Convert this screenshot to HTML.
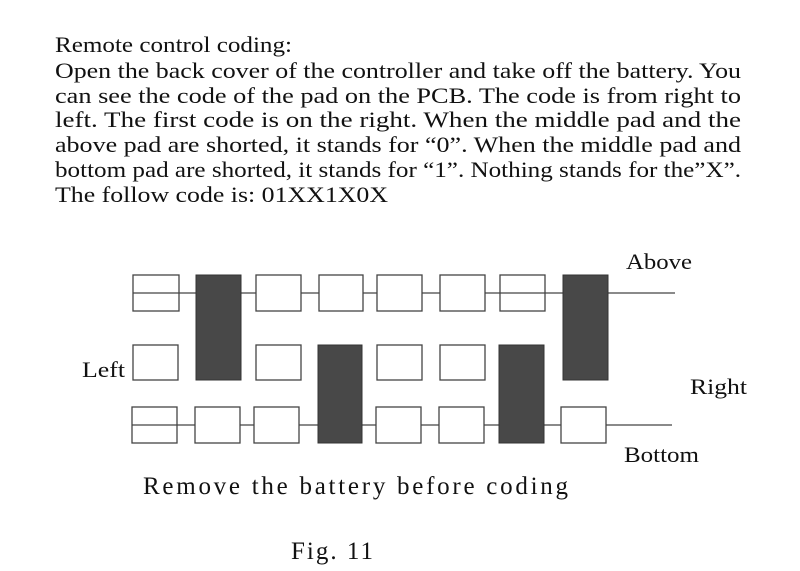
<!DOCTYPE html>
<html><head><meta charset="utf-8"><style>
html,body{margin:0;padding:0;background:#fff;}
svg{display:block;}
text{font-family:"Liberation Serif",serif;fill:#111;}
</style></head><body>
<svg width="800" height="571" viewBox="0 0 800 571" xmlns="http://www.w3.org/2000/svg">
<g font-size="22.5">
<text x="55" y="52" textLength="237" lengthAdjust="spacingAndGlyphs">Remote control coding:</text>
<text x="55" y="78" textLength="686" lengthAdjust="spacingAndGlyphs">Open the back cover of the controller and take off the battery. You</text>
<text x="55" y="103" textLength="686" lengthAdjust="spacingAndGlyphs">can see the code of the pad on the PCB. The code is  from right to</text>
<text x="55" y="127" textLength="686" lengthAdjust="spacingAndGlyphs">left. The first code is on the right. When the middle pad and the</text>
<text x="55" y="152" textLength="686" lengthAdjust="spacingAndGlyphs">above pad are shorted, it stands for “0”. When the middle pad and</text>
<text x="55" y="177" textLength="686" lengthAdjust="spacingAndGlyphs">bottom pad are shorted, it stands for “1”. Nothing stands for the”X”.</text>
<text x="55" y="202" textLength="333" lengthAdjust="spacingAndGlyphs">The follow code  is: 01XX1X0X</text>
</g>
<g stroke="#444" stroke-width="1.3" fill="#fff">
<line x1="133" y1="293" x2="675" y2="293"/>
<line x1="132" y1="425" x2="672" y2="425"/>
<rect x="133" y="275" width="46" height="36" fill="none"/>
<rect x="256" y="275" width="45" height="36"/>
<rect x="319" y="275" width="44" height="36"/>
<rect x="377" y="275" width="45" height="36"/>
<rect x="440" y="275" width="45" height="36"/>
<rect x="500" y="275" width="45" height="36" fill="none"/>
<rect x="133" y="345" width="45" height="35"/>
<rect x="256" y="345" width="45" height="35"/>
<rect x="377" y="345" width="45" height="35"/>
<rect x="440" y="345" width="45" height="35"/>
<rect x="132" y="407" width="45" height="36" fill="none"/>
<rect x="195" y="407" width="45" height="36"/>
<rect x="254" y="407" width="45" height="36"/>
<rect x="376" y="407" width="45" height="36"/>
<rect x="439" y="407" width="45" height="36"/>
<rect x="561" y="407" width="45" height="36"/>
</g>
<g fill="#484848" stroke="#333" stroke-width="1">
<rect x="196" y="275" width="45" height="105"/>
<rect x="563" y="275" width="45" height="105"/>
<rect x="318" y="345" width="44" height="98"/>
<rect x="499" y="345" width="45" height="98"/>
</g>
<g font-size="22">
<text x="626" y="269" textLength="66" lengthAdjust="spacingAndGlyphs">Above</text>
<text x="82" y="377" textLength="43" lengthAdjust="spacingAndGlyphs">Left</text>
<text x="690" y="394" textLength="57" lengthAdjust="spacingAndGlyphs">Right</text>
<text x="624" y="462" textLength="75" lengthAdjust="spacingAndGlyphs">Bottom</text>
</g>
<text x="143" y="494" font-size="25" textLength="425" lengthAdjust="spacing">Remove the battery before coding</text>
<text x="291" y="559" font-size="25" textLength="82" lengthAdjust="spacing">Fig. 11</text>
</svg>
</body></html>
